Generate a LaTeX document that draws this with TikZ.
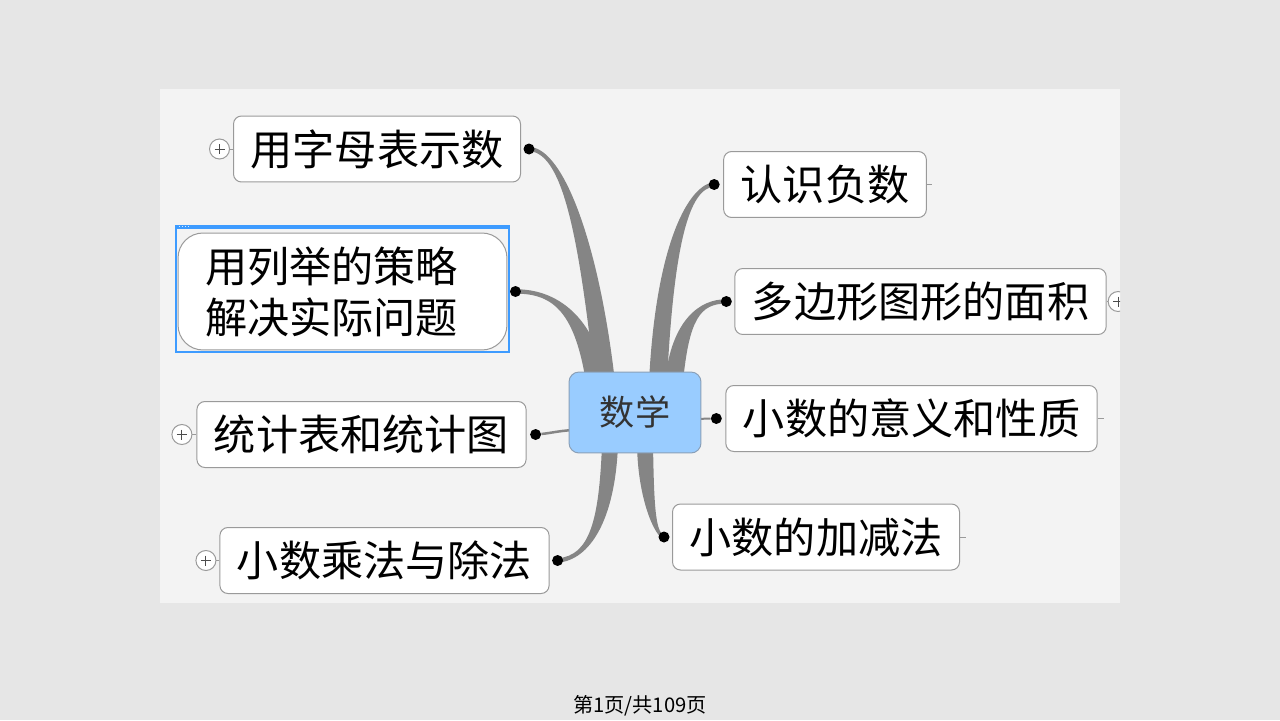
\documentclass[tikz,border=0pt]{standalone}
\usepackage{fontspec}
\newfontfamily\cjk{Noto Sans CJK SC}
\usetikzlibrary{calc,positioning}

\pgfdeclarelayer{page}
\pgfdeclarelayer{under}
\pgfsetlayers{page,under,main}

\definecolor{pagegray}{HTML}{E6E6E6}
\definecolor{panelgray}{HTML}{F3F3F3}
\definecolor{limbgray}{HTML}{858585}
\definecolor{boxline}{HTML}{9A9A9A}
\definecolor{hubblue}{HTML}{99CCFF}
\definecolor{hubline}{HTML}{8AA0B8}
\definecolor{selblue}{HTML}{3D9BFF}

\tikzset{
  topic/.style={draw=boxline, fill=white, line width=0.02cm, rounded corners=0.16cm,
    minimum height=1.32cm, inner xsep=0.34cm, inner ysep=0pt,
    font=\cjk\fontsize{24pt}{29pt}\selectfont},
  mainidea/.style={draw=hubline, fill=hubblue, line width=0.02cm, rounded corners=0.2cm,
    minimum width=2.64cm, minimum height=1.62cm, text=black!80,
    font=\cjk\fontsize{20pt}{24pt}\selectfont},
  knob/.style={circle, fill=black, inner sep=0pt, minimum size=0.22cm},
  plusbtn/.style={circle, draw=boxline, fill=white, line width=0.02cm, inner sep=0pt,
    minimum size=0.4cm,
    path picture={\draw[black!70, line width=0.02cm]
      ($(path picture bounding box.center)+(-5,0)$) -- ++(10,0)
      ($(path picture bounding box.center)+(0,-5)$) -- ++(0,10);}},
  limb/.style={fill=limbgray},
  limbline/.style={draw=limbgray, line width=0.05cm},
  stub/.style={draw=boxline, line width=0.02cm},
  selframe/.style={draw=selblue, line width=0.04cm},
}

% tapered branch: knob, control 1, control 2, base, signed half width
\newcommand{\branch}[5]{%
  \fill[limb] ($(#1)+(0,-2.2)$) .. controls ($#2+(0,-2.2)$) and ($#3+({-(#5)},0)$) .. ($(#4)+({-(#5)},0)$)
    -- ($(#4)+(#5,0)$) .. controls ($#3+(#5,0)$) and ($#2+(0,2.2)$) .. ($(#1)+(0,2.2)$) -- cycle;}

\begin{document}
\begin{tikzpicture}[x=0.02cm, y=-0.02cm]
  \useasboundingbox (0,0) rectangle (1280,720);

  \begin{pgfonlayer}{page}
    \fill[pagegray] (0,0) rectangle (1280,720);
    \fill[panelgray] (160,89) rectangle (1120,603);
  \end{pgfonlayer}

  \begin{scope}
    \clip (160,89) rectangle (1120,603);

    % left side topics
    \node[topic] (letters) at (377,149) {用字母表示数};
    \node[topic, rounded corners=0.5cm, minimum height=2.34cm, inner xsep=0.54cm,
      text width=5.5cm, align=left] (steps) at (342.5,291.5) {用列举的策略\\解决实际问题};
    \node[topic] (charts) at (361.5,434.5) {统计表和统计图};
    \node[topic] (muldiv) at (384.5,560.5) {小数乘法与除法};

    % right side topics
    \node[topic] (negs) at (825,184.5) {认识负数};
    \node[topic] (areas) at (920.5,301.5) {多边形图形的面积};
    \node[topic] (meaning) at (911.5,418.5) {小数的意义和性质};
    \node[topic] (addsub) at (816,537) {小数的加减法};

    % the centre
    \node[mainidea] (hub) at (635,412.5) {数学};

    % knobs at the branch ends
    \node[knob] (kA) at ($(letters.east)+(8,0)$) {};
    \node[knob] (kB) at ($(steps.east)+(8,0)$) {};
    \node[knob] (kC) at ($(charts.east)+(9,0)$) {};
    \node[knob] (kD) at ($(muldiv.east)+(8,0)$) {};
    \node[knob] (kE) at ($(negs.west)+(-9,0)$) {};
    \node[knob] (kF) at ($(areas.west)+(-8,0)$) {};
    \node[knob] (kG) at ($(meaning.west)+(-9,0)$) {};
    \node[knob] (kH) at ($(addsub.west)+(-8,0)$) {};

    % collapsed subtopics
    \node[plusbtn, left=0.06cm of letters] (pA) {};
    \node[plusbtn, left=0.08cm of charts] (pC) {};
    \node[plusbtn, left=0.06cm of muldiv] (pD) {};
    \node[plusbtn, right=0.02cm of areas] (pF) {};
    \foreach \p/\t in {pA/letters, pC/charts, pD/muldiv, pF/areas}
      \draw[stub] (\p) -- (\t);

    % short stubs on the right
    \draw[stub] (negs.east) -- ++(5,0);
    \draw[stub] (meaning.east) -- ++(6,0);
    \draw[stub] (addsub.east) -- ++(6,0);

    % selection frame round the second topic
    \draw[selframe] ($(steps.south west)+(-2,2)$) rectangle ($(steps.north east)+(2,-7)$);
    \fill[selblue] ($(steps.north west)+(-2,-7)$) rectangle ($(steps.north east)+(2,-4)$);
    \foreach \i in {0,...,3}
      \fill[white!80!selblue] ($(steps.north west)+(1+3*\i,-6.5)$) rectangle ++(1.4,1.4);
  \end{scope}

  % branches, under the nodes
  \coordinate (bA) at (605,382);
  \coordinate (bB) at (596,382);
  \coordinate (bC) at (578,430);
  \coordinate (bD) at (610,445);
  \coordinate (bE) at (658,382);
  \coordinate (bF) at (674,382);
  \coordinate (bG) at (690,419);
  \coordinate (bH) at (645,445);
  \begin{pgfonlayer}{under}
    \branch{kA}{(565,150)}{(590,250)}{bA}{-10}
    \branch{kB}{(555,291)}{(585,315)}{bB}{-10}
    \branch{kE}{(690,186)}{(665,240)}{bE}{9}
    \branch{kF}{(700,301)}{(680,320)}{bF}{9}
    \branch{kD}{(590,558)}{(607,520)}{bD}{8}
    \branch{kH}{(655,535)}{(646,500)}{bH}{-8}
    \draw[limbline] (kC) .. controls (552,433) and (562,430) .. (bC);
    \draw[limbline, line width=0.04cm] (kG) -- (bG);
  \end{pgfonlayer}

  % page number
  \node[font=\cjk\fontsize{11.5pt}{14pt}\selectfont] (pageno) at (640,706) {第1页/共109页};
\end{tikzpicture}
\end{document}
